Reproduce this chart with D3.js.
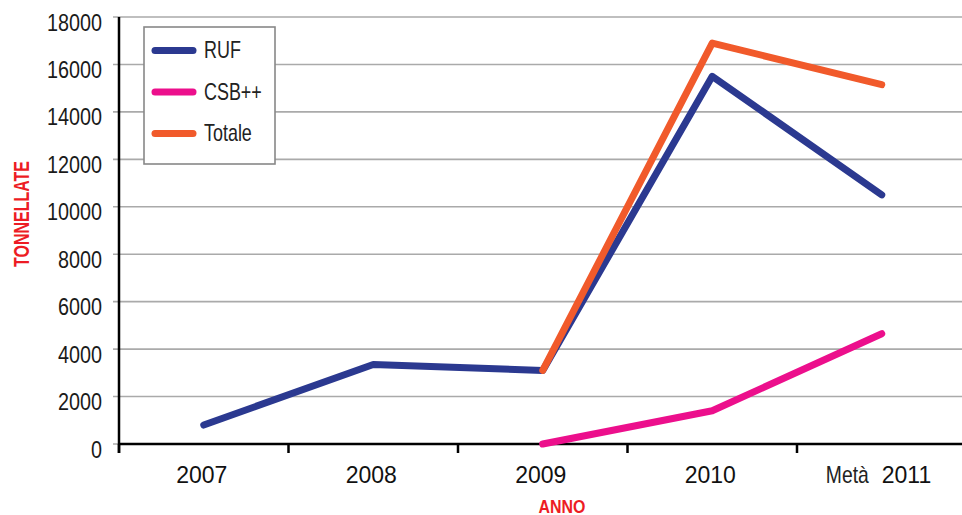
<!DOCTYPE html>
<html>
<head>
<meta charset="utf-8">
<script src="https://cdn.jsdelivr.net/npm/d3@7"></script>
<style>
  html, body { margin: 0; padding: 0; background: #fff; }
  svg { display: block; font-family: "Liberation Sans", Arial, sans-serif; }
</style>
</head>
<body>
<svg id="chart" width="962" height="515"></svg>
<script>
// Years on the horizontal axis (last one is mid-year)
const years = ["2007", "2008", "2009", "2010", "2011"];
const yearLabels = ["2007", "2008", "2009", "2010", "Metà 2011"];

// Tonnes per year; null where the series has no value
const ruf   = [800, 3350, 3100, 15500, 10500];
const csb   = [null, null, 0, 1400, 4650];
const total = [null, null, 3100, 16900, 15150];

const yTicks = [0, 2000, 4000, 6000, 8000, 10000, 12000, 14000, 16000, 18000];

const seriesNames  = ["RUF", "CSB++", "Totale"];
const seriesColors = ["#2b3990", "#ec0f8c", "#f15a2b"];

const svg = d3.select("#chart");
const W = 962, H = 515;
const plotLeft = 119, plotTop = 17, plotBottom = 444;
const plotRight = plotLeft + 5 * 169.5;

const x = d3.scaleBand().domain(years).range([plotLeft, plotRight]).padding(0);
const y = d3.scaleLinear().domain([0, 18000]).range([plotBottom, plotTop]);

// Condensed text: regular face squeezed horizontally
function narrowText(parent, tx, ty, str, size, sx, anchor, fill) {
  return parent.append("g")
    .attr("transform", `translate(${tx},${ty})`)
    .append("text")
    .attr("transform", `scale(${sx},1)`)
    .attr("text-anchor", anchor)
    .attr("font-size", size)
    .attr("fill", fill)
    .text(str);
}

// Horizontal gridlines (with small ticks left of the axis)
svg.append("g")
  .selectAll("line")
  .data(yTicks)
  .join("line")
  .attr("x1", plotLeft - 6)
  .attr("x2", W)
  .attr("y1", d => y(d))
  .attr("y2", d => y(d))
  .attr("stroke", "#aaaaaa")
  .attr("stroke-width", 1.6);

// Y tick labels
const yl = svg.append("g");
yTicks.forEach(t => narrowText(yl, 102, y(t) + 13.5, t, 23, 0.86, "end", "#1a1a1a"));

// X axis line and band ticks
svg.append("line")
  .attr("x1", plotLeft).attr("x2", W)
  .attr("y1", plotBottom).attr("y2", plotBottom)
  .attr("stroke", "#000").attr("stroke-width", 2.5);

svg.append("g")
  .selectAll("line")
  .data(years)
  .join("line")
  .attr("x1", d => x(d)).attr("x2", d => x(d))
  .attr("y1", plotBottom).attr("y2", plotBottom + 9)
  .attr("stroke", "#000").attr("stroke-width", 2.5);

// Y axis line
svg.append("line")
  .attr("x1", plotLeft).attr("x2", plotLeft)
  .attr("y1", plotTop).attr("y2", plotBottom + 9)
  .attr("stroke", "#000").attr("stroke-width", 2.5);

// X tick labels
const xl = svg.append("g");
years.forEach((yr, i) => {
  const cx = x(yr) + x.bandwidth() / 2;
  const lab = yearLabels[i];
  if (lab.startsWith("Metà")) {
    const parts = lab.split(" ");
    narrowText(xl, cx - 13, 483, parts[0], 23, 0.84, "end", "#222");
    xl.append("text")
      .attr("x", cx)
      .attr("y", 483)
      .attr("text-anchor", "start")
      .attr("font-size", 23)
      .attr("fill", "#111")
      .text(parts[1]);
  } else {
    xl.append("text")
      .attr("x", cx - 2)
      .attr("y", 483)
      .attr("text-anchor", "middle")
      .attr("font-size", 23)
      .attr("fill", "#111")
      .text(lab);
  }
});

// Axis titles
svg.append("text")
  .attr("transform", `translate(28.5,214) rotate(-90)`)
  .attr("text-anchor", "middle")
  .attr("font-size", 21.5)
  .attr("font-weight", "bold")
  .attr("fill", "#ed1c24")
  .attr("textLength", 106)
  .attr("lengthAdjust", "spacingAndGlyphs")
  .text("TONNELLATE");

svg.append("text")
  .attr("x", 562)
  .attr("y", 512.5)
  .attr("text-anchor", "middle")
  .attr("font-size", 17.5)
  .attr("font-weight", "bold")
  .attr("fill", "#ed1c24")
  .attr("textLength", 47)
  .attr("lengthAdjust", "spacingAndGlyphs")
  .text("ANNO");

// Series lines
const line = d3.line()
  .defined(d => d.v !== null)
  .x(d => x(d.year) + x.bandwidth() / 2)
  .y(d => y(d.v));

[ruf, csb, total].forEach((vals, i) => {
  const pts = years.map((yr, j) => ({ year: yr, v: vals[j] }));
  svg.append("path")
    .datum(pts)
    .attr("d", line)
    .attr("fill", "none")
    .attr("stroke", seriesColors[i])
    .attr("stroke-width", 7)
    .attr("stroke-linecap", "round")
    .attr("stroke-linejoin", "round");
});

// Legend
const lg = svg.append("g");
lg.append("rect")
  .attr("x", 144).attr("y", 27)
  .attr("width", 131).attr("height", 137)
  .attr("fill", "#fff")
  .attr("stroke", "#888").attr("stroke-width", 1.6);

seriesNames.forEach((name, i) => {
  const ly = 50.5 + i * 41.5;
  lg.append("line")
    .attr("x1", 155).attr("x2", 193)
    .attr("y1", ly).attr("y2", ly)
    .attr("stroke", seriesColors[i])
    .attr("stroke-width", 7)
    .attr("stroke-linecap", "round");
  narrowText(lg, 204, ly + 7.8, name, 23, 0.78, "start", "#222");
});
</script>
</body>
</html>
